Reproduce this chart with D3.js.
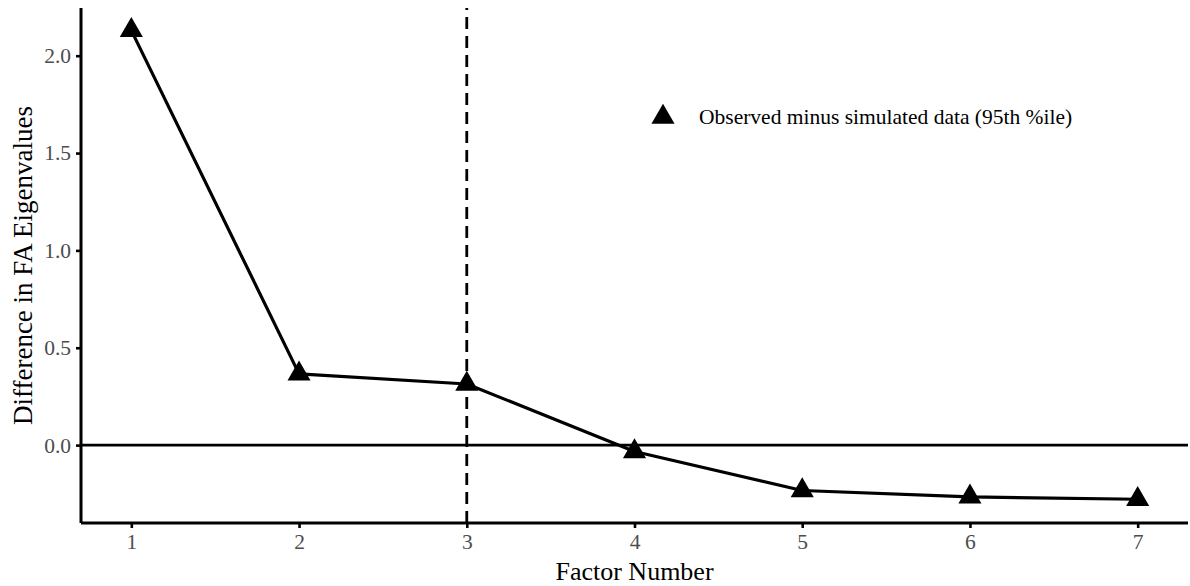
<!DOCTYPE html>
<html>
<head>
<meta charset="utf-8">
<script src="https://cdn.jsdelivr.net/npm/d3@7"></script>
<style>
  html, body { margin: 0; padding: 0; background: #fff; }
  svg { display: block; }
</style>
</head>
<body>
<svg id="chart" width="1190" height="586"></svg>
<script>
// Parallel analysis: observed minus simulated (95th percentile) eigenvalues
const factors = [1, 2, 3, 4, 5, 6, 7];
const eigenDiff = [2.130, 0.366, 0.314, -0.033, -0.233, -0.266, -0.278];
const xTicks = [1, 2, 3, 4, 5, 6, 7];
const yTicks = [0.0, 0.5, 1.0, 1.5, 2.0];
const retainedFactors = 3;
const legendLabel = "Observed minus simulated data (95th %ile)";
const xTitle = "Factor Number";
const yTitle = "Difference in FA Eigenvalues";

const W = 1190, H = 586;
const margin = { left: 81, right: 2, top: 8, bottom: 63 };
const font = "'Liberation Serif', 'Times New Roman', serif";

const svg = d3.select("#chart");

const x = d3.scaleLinear().domain([0.7, 7.3]).range([margin.left, W - margin.right]);
const y = d3.scaleLinear().domain([-0.40, 2.245]).range([H - margin.bottom, margin.top]);

// zero reference line
svg.append("line")
  .attr("x1", x(0.7)).attr("x2", x(7.3))
  .attr("y1", y(0)).attr("y2", y(0))
  .attr("stroke", "#000").attr("stroke-width", 2.8);

// retained-factor cut-off
svg.append("line")
  .attr("x1", x(retainedFactors)).attr("x2", x(retainedFactors))
  .attr("y1", y(-0.40)).attr("y2", y(2.245))
  .attr("stroke", "#000").attr("stroke-width", 2.8)
  .attr("stroke-dasharray", "12,7");

// axes
const xAxis = d3.axisBottom(x).tickValues(xTicks).tickFormat(d3.format("d")).tickSize(5).tickPadding(6);
const yAxis = d3.axisLeft(y).tickValues(yTicks).tickFormat(d3.format(".1f")).tickSize(5).tickPadding(5);

const gx = svg.append("g").attr("transform", `translate(0,${H - margin.bottom})`).call(xAxis);
const gy = svg.append("g").attr("transform", `translate(${margin.left},0)`).call(yAxis);

[gx, gy].forEach(g => {
  g.select(".domain").attr("stroke", "#000").attr("stroke-width", 3);
  g.selectAll(".tick line").attr("stroke", "#000").attr("stroke-width", 2.6);
  g.selectAll(".tick text")
    .attr("fill", "#4d4d4d")
    .style("font-family", font)
    .style("font-size", "21.5px");
});
gx.select(".domain").attr("d", `M${x(0.7)},0H${x(7.3)}`);
gy.select(".domain").attr("d", `M0,${y(-0.40)}V${y(2.245)}`);

// series line
const line = d3.line().x((d, i) => x(factors[i])).y(d => y(d));
svg.append("path")
  .datum(eigenDiff)
  .attr("fill", "none")
  .attr("stroke", "#000")
  .attr("stroke-width", 3.2)
  .attr("stroke-linejoin", "round")
  .attr("d", line);

// triangle markers
const tri = d3.symbol().type(d3.symbolTriangle).size(231);
svg.append("g").selectAll("path")
  .data(eigenDiff)
  .join("path")
  .attr("transform", (d, i) => `translate(${x(factors[i])},${y(d)})`)
  .attr("d", tri)
  .attr("fill", "#000");

// legend
const lg = svg.append("g").attr("transform", "translate(663,117)");
lg.append("path").attr("d", tri).attr("fill", "#000");
lg.append("text")
  .attr("x", 36).attr("y", 7)
  .style("font-family", font)
  .style("font-size", "21.5px")
  .attr("fill", "#000")
  .text(legendLabel);

// axis titles
svg.append("text")
  .attr("x", (x(0.7) + x(7.3)) / 2)
  .attr("y", 580)
  .attr("text-anchor", "middle")
  .style("font-family", font)
  .style("font-size", "26px")
  .text(xTitle);

svg.append("text")
  .attr("transform", `translate(32,${(y(-0.40) + y(2.245)) / 2}) rotate(-90)`)
  .attr("text-anchor", "middle")
  .style("font-family", font)
  .style("font-size", "27px")
  .text(yTitle);
</script>
</body>
</html>
